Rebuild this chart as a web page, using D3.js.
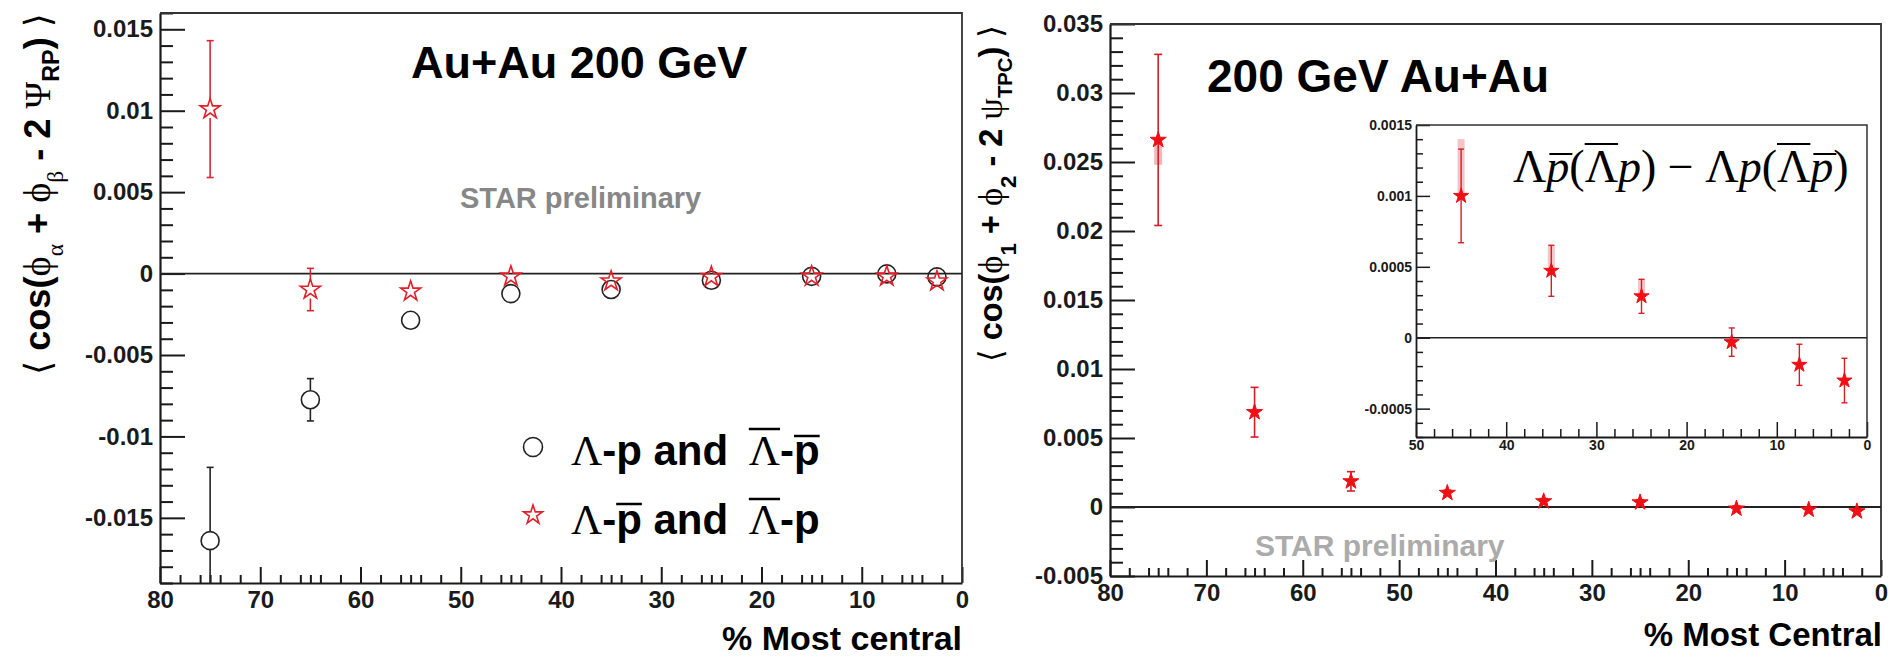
<!DOCTYPE html>
<html><head><meta charset="utf-8">
<script src="https://cdn.jsdelivr.net/npm/d3@7"></script>
<style>body{margin:0;background:#fff}svg{display:block}text{white-space:pre}</style>
</head><body>
<svg id="c" width="1890" height="660"></svg>
<script>
// ---------------- data ----------------
const centrality = [75, 65, 55, 45, 35, 25, 15, 7.5, 2.5];
// left panel: same-sign pairs (Λ-p and Λbar-pbar), open circles
const sameVals = [-0.0164, -0.00775, -0.00287, -0.00123, -0.00098, -0.00041, -0.00017, -0.00002, -0.0002];
const sameErr  = [0.0045, 0.0013, 0.0002, 0.0001, 0.0001, 0.0001, 0.0001, 0.0001, 0.0001];
// left panel: opposite-sign pairs (Λ-pbar and Λbar-p), open stars
const oppVals = [0.0101, -0.00098, -0.00109, -0.00017, -0.00047, -0.0002, -0.00017, -0.00017, -0.00047];
const oppErr  = [0.0042, 0.0013, 0.0003, 0.0002, 0.0001, 0.0001, 0.0001, 0.0001, 0.0001];
// right panel: main
const rightVals = [0.0266, 0.00687, 0.00186, 0.00102, 0.00041, 0.00033, -0.00012, -0.0002, -0.00032];
const rightErr  = [0.0062, 0.0018, 0.0007, 0.0002, 0.0002, 0.0002, 0.0002, 0.0002, 0.0002];
const rightSysLow = [0.0018, 0, 0, 0, 0, 0, 0, 0, 0];
// inset: difference
const insetCent = [45, 35, 25, 15, 7.5, 2.5];
const insetVals = [0.0010, 0.000472, 0.000292, -0.000031, -0.000191, -0.000302];
const insetErr  = [0.00033, 0.00018, 0.00012, 0.0001, 0.000145, 0.000157];
const insetSysHigh = [0.0004, 0.00018, 0.00012, 0, 0, 0];
// ticks
const xMajor = [80, 70, 60, 50, 40, 30, 20, 10, 0];
const yMajorL = [-0.015, -0.01, -0.005, 0, 0.005, 0.01, 0.015];
const yMajorR = [-0.005, 0, 0.005, 0.01, 0.015, 0.02, 0.025, 0.03, 0.035];
const xMajorI = [50, 40, 30, 20, 10, 0];
const yMajorI = [-0.0005, 0, 0.0005, 0.001, 0.0015];

// ---------------- setup ----------------
const SANS = '"Liberation Sans", Arial, Helvetica, sans-serif';
const SERIF = '"Liberation Serif", "Times New Roman", serif';
const SYM = '"DejaVu Sans", sans-serif';
const svg = d3.select('#c');
svg.append('rect').attr('width', 1890).attr('height', 660).attr('fill', '#fff');

const fmt = d => Math.abs(d) < 1e-12 ? '0' : String(+d.toFixed(5));

// one <text> made of styled tspans; overlines measured from glyph extents
function rich(parent, x, y, segs, k = 1) {
  const t = parent.append('text').attr('x', x).attr('y', y).attr('fill', '#000');
  let idx = 0, prevDy = 0;
  const overs = [];
  segs.forEach(s => {
    const dy = (s.dy || 0) * k;
    const ts = t.append('tspan').attr('font-family', s.family || SANS).attr('font-size', s.size * k)
      .attr('font-weight', s.weight || 'bold').attr('font-style', s.style || 'normal')
      .attr('dy', dy - prevDy).text(s.t);
    if (s.gap) ts.attr('dx', s.gap * k);
    prevDy = dy;
    if (s.over) overs.push({ a: idx, b: idx + s.t.length - 1, s });
    idx += s.t.length;
  });
  const node = t.node();
  overs.forEach(o => {
    const ea = node.getExtentOfChar(o.a), eb = node.getExtentOfChar(o.b);
    const sh = (o.s.overShift || 0) * k;
    parent.append('line').attr('x1', ea.x + sh).attr('x2', eb.x + eb.width + sh)
      .attr('y1', y - o.s.over * k).attr('y2', y - o.s.over * k)
      .attr('stroke', '#000').attr('stroke-width', o.s.overW || 2);
  });
  const last = node.getExtentOfChar(idx - 1);
  return last.x + last.width - x;
}
function richFit(parent, segs, target) {
  const tmp = parent.append('g');
  const w = rich(tmp, 0, 0, segs);
  tmp.remove();
  rich(parent, 0, 0, segs, target / w);
}

function axes(g, x, y, o) {
  const [xa, xb] = x.range(), [ya, yb] = y.range();
  const styleAx = sel => sel.attr('font-family', SANS).attr('font-weight', 'bold')
    .attr('font-size', o.font).attr('color', '#1a1a1a');
  g.append('g').attr('transform', `translate(0,${ya})`)
    .call(d3.axisBottom(x).tickValues(o.xMinor).tickSize(-o.xMinLen).tickFormat('').tickSizeOuter(0))
    .call(s => s.select('.domain').remove()).call(styleAx)
    .selectAll('line').attr('stroke-width', o.tw);
  const gx = g.append('g').attr('transform', `translate(0,${ya})`)
    .call(d3.axisBottom(x).tickValues(o.xMajor).tickSize(-o.xMajLen).tickPadding(o.xPad)
      .tickFormat(d3.format('d')).tickSizeOuter(0)).call(styleAx);
  gx.selectAll('line').attr('stroke-width', o.tw);
  gx.select('.domain').attr('stroke-width', o.dw);
  g.append('g').attr('transform', `translate(${xa},0)`)
    .call(d3.axisLeft(y).tickValues(o.yMinor).tickSize(-o.yMinLen).tickFormat('').tickSizeOuter(0))
    .call(s => s.select('.domain').remove()).call(styleAx)
    .selectAll('line').attr('stroke-width', o.tw);
  const gy = g.append('g').attr('transform', `translate(${xa},0)`)
    .call(d3.axisLeft(y).tickValues(o.yMajor).tickSize(-o.yMajLen).tickPadding(o.yPad)
      .tickFormat(fmt).tickSizeOuter(0)).call(styleAx);
  gy.selectAll('line').attr('stroke-width', o.tw);
  gy.select('.domain').attr('stroke-width', o.dw);
  g.append('path').attr('d', `M${xa},${yb}H${xb}V${ya}`).attr('fill', 'none')
    .attr('stroke', '#333').attr('stroke-width', o.fw);
  g.append('line').attr('x1', xa).attr('x2', xb).attr('y1', y(0)).attr('y2', y(0))
    .attr('stroke', '#222').attr('stroke-width', o.zw);
}

function clip(id, x, y) {
  const [xa, xb] = x.range(), [ya, yb] = y.range();
  svg.append('clipPath').attr('id', id).append('rect')
    .attr('x', xa).attr('y', yb).attr('width', xb - xa).attr('height', ya - yb);
}

function errBars(g, x, y, xs, vals, errs, r, cap, color, w) {
  xs.forEach((c, i) => {
    const px = x(c), py = y(vals[i]), top = y(vals[i] + errs[i]), bot = y(vals[i] - errs[i]);
    if (py - r > top) {
      g.append('line').attr('x1', px).attr('x2', px).attr('y1', top).attr('y2', py - r)
        .attr('stroke', color).attr('stroke-width', w);
      g.append('line').attr('x1', px - cap).attr('x2', px + cap).attr('y1', top).attr('y2', top)
        .attr('stroke', color).attr('stroke-width', w);
    }
    if (bot > py + r) {
      g.append('line').attr('x1', px).attr('x2', px).attr('y1', py + r).attr('y2', bot)
        .attr('stroke', color).attr('stroke-width', w);
      g.append('line').attr('x1', px - cap).attr('x2', px + cap).attr('y1', bot).attr('y2', bot)
        .attr('stroke', color).attr('stroke-width', w);
    }
  });
}
const starSize = r => r * r / 0.8908130915292852;

// ================= LEFT PANEL =================
const xL = d3.scaleLinear().domain([80, 0]).range([160, 962]);
const yL = d3.scaleLinear().domain([-0.019, 0.016]).range([583, 13]);
const xMinor = d3.range(1, 80).filter(v => v % 10 !== 0 && (v % 2 === 0 || v % 5 === 0));
const gL = svg.append('g');
axes(gL, xL, yL, {
  xMajor, xMinor, yMajor: yMajorL,
  yMinor: d3.range(-19, 17).filter(i => i % 5 !== 0).map(i => i / 1000),
  xMajLen: 16, xMinLen: 8, yMajLen: 25, yMinLen: 13, xPad: 8, yPad: 7,
  font: 24, tw: 2, dw: 2.2, fw: 1.8, zw: 1.8
});
clip('clipL', xL, yL);
const dL = gL.append('g').attr('clip-path', 'url(#clipL)');
errBars(dL, xL, yL, centrality, sameVals, sameErr, 9, 3.5, '#222', 1.6);
errBars(dL, xL, yL, centrality, oppVals, oppErr, 9, 3.5, '#d8262e', 1.6);
dL.selectAll('circle.same').data(centrality).join('circle')
  .attr('cx', d => xL(d)).attr('cy', (d, i) => yL(sameVals[i])).attr('r', 9)
  .attr('fill', 'none').attr('stroke', '#222').attr('stroke-width', 1.6);
dL.selectAll('path.opp').data(centrality).join('path')
  .attr('transform', (d, i) => `translate(${xL(d)},${yL(oppVals[i])})`)
  .attr('d', d3.symbol(d3.symbolStar, starSize(10.5)))
  .attr('fill', 'none').attr('stroke', '#e0202a').attr('stroke-width', 1.6);

gL.append('text').attr('x', 411).attr('y', 78).attr('font-family', SANS).attr('font-weight', 'bold')
  .attr('font-size', 45).text('Au+Au 200 GeV');
gL.append('text').attr('x', 460).attr('y', 208).attr('font-family', SANS).attr('font-weight', 'bold')
  .attr('font-size', 29).attr('fill', '#878787').text('STAR preliminary');
gL.append('text').attr('x', 962).attr('y', 650).attr('text-anchor', 'end').attr('font-family', SANS)
  .attr('font-weight', 'bold').attr('font-size', 34).text('% Most central');

// legend
gL.append('circle').attr('cx', 533).attr('cy', 447).attr('r', 9.5).attr('fill', 'none')
  .attr('stroke', '#222').attr('stroke-width', 1.6);
gL.append('path').attr('transform', 'translate(533,515)').attr('d', d3.symbol(d3.symbolStar, starSize(10)))
  .attr('fill', 'none').attr('stroke', '#e0202a').attr('stroke-width', 1.6);
rich(gL, 571, 465, [
  { t: 'Λ', family: SERIF, weight: 'normal', size: 43 },
  { t: '-p and ', size: 42 },
  { t: 'Λ', family: SERIF, weight: 'normal', size: 43, over: 36, gap: 9, overW: 2.5 },
  { t: '-', size: 42 },
  { t: 'p', size: 42, over: 29, overW: 2.5 }
]);
rich(gL, 571, 534, [
  { t: 'Λ', family: SERIF, weight: 'normal', size: 43 },
  { t: '-', size: 42 },
  { t: 'p', size: 42, over: 30, overW: 2.5 },
  { t: ' and ', size: 42 },
  { t: 'Λ', family: SERIF, weight: 'normal', size: 43, over: 35, gap: 9, overW: 2.5 },
  { t: '-p', size: 42 }
]);

// y label left
const ylL = svg.append('g').attr('transform', 'translate(50,375) rotate(-90)');
richFit(ylL, [
  { t: '⟨', family: SYM, weight: 'normal', size: 34 },
  { t: ' cos(', size: 34 },
  { t: 'ϕ', family: SERIF, weight: 'normal', size: 36 },
  { t: 'α', family: SERIF, weight: 'normal', size: 22, dy: 12 },
  { t: ' + ', size: 34 },
  { t: 'ϕ', family: SERIF, weight: 'normal', size: 36 },
  { t: 'β', family: SERIF, weight: 'normal', size: 22, dy: 12 },
  { t: ' - 2 ', size: 34 },
  { t: 'Ψ', family: SERIF, weight: 'normal', size: 34 },
  { t: 'RP', size: 22, dy: 8 },
  { t: ') ', size: 34 },
  { t: '⟩', family: SYM, weight: 'normal', size: 34 }
], 362);

// ================= RIGHT PANEL =================
const xR = d3.scaleLinear().domain([80, 0]).range([1110, 1881]);
const yR = d3.scaleLinear().domain([-0.005, 0.035]).range([576, 24]);
const gR = svg.append('g');
axes(gR, xR, yR, {
  xMajor, xMinor, yMajor: yMajorR,
  yMinor: d3.range(-5, 36).filter(i => i % 5 !== 0).map(i => i / 1000),
  xMajLen: 16, xMinLen: 8, yMajLen: 25, yMinLen: 13, xPad: 8, yPad: 7,
  font: 24, tw: 2, dw: 2.2, fw: 1.8, zw: 1.8
});
clip('clipR', xR, yR);
const dR = gR.append('g').attr('clip-path', 'url(#clipR)');
dR.selectAll('rect.sys').data(centrality.filter((d, i) => rightSysLow[i] > 0)).join('rect')
  .attr('x', d => xR(d) - 4).attr('width', 8)
  .attr('y', d => yR(rightVals[centrality.indexOf(d)]))
  .attr('height', d => { const i = centrality.indexOf(d); return yR(rightVals[i] - rightSysLow[i]) - yR(rightVals[i]); })
  .attr('fill', '#f6b8bc');
errBars(dR, xR, yR, centrality, rightVals, rightErr, 0, 4, '#d41f26', 1.6);
dR.selectAll('path.st').data(centrality).join('path')
  .attr('transform', (d, i) => `translate(${xR(d)},${yR(rightVals[i])})`)
  .attr('d', d3.symbol(d3.symbolStar, starSize(8.5))).attr('fill', '#f00f14')
  .attr('stroke', '#f00f14').attr('stroke-width', 1);

gR.append('text').attr('x', 1207).attr('y', 92).attr('font-family', SANS).attr('font-weight', 'bold')
  .attr('font-size', 46).text('200 GeV Au+Au');
gR.append('text').attr('x', 1255).attr('y', 556).attr('font-family', SANS).attr('font-weight', 'bold')
  .attr('font-size', 30).attr('fill', '#ababab').text('STAR preliminary');
gR.append('text').attr('x', 1882).attr('y', 646).attr('text-anchor', 'end').attr('font-family', SANS)
  .attr('font-weight', 'bold').attr('font-size', 33).text('% Most Central');

const ylR = svg.append('g').attr('transform', 'translate(1002,362) rotate(-90)');
richFit(ylR, [
  { t: '⟨', family: SYM, weight: 'normal', size: 32 },
  { t: ' cos(', size: 32 },
  { t: 'ϕ', family: SERIF, weight: 'normal', size: 34 },
  { t: '1', size: 22, dy: 14 },
  { t: ' + ', size: 32 },
  { t: 'ϕ', family: SERIF, weight: 'normal', size: 34 },
  { t: '2', size: 22, dy: 14 },
  { t: ' - 2 ', size: 32 },
  { t: 'ψ', family: SERIF, weight: 'normal', size: 34 },
  { t: 'TPC', size: 20, dy: 10 },
  { t: ') ', size: 32 },
  { t: '⟩', family: SYM, weight: 'normal', size: 32 }
], 337);

// ================= INSET =================
const xI = d3.scaleLinear().domain([50, 0]).range([1416, 1867]);
const yI = d3.scaleLinear().domain([-0.0007, 0.0015]).range([437, 125]);
const gI = svg.append('g');
gI.append('rect').attr('x', 1416).attr('y', 125).attr('width', 451).attr('height', 312).attr('fill', '#fff');
axes(gI, xI, yI, {
  xMajor: xMajorI, xMinor: d3.range(2, 50, 2).filter(v => v % 10 !== 0), yMajor: yMajorI,
  yMinor: d3.range(-7, 16).filter(i => i % 5 !== 0).map(i => i / 10000),
  xMajLen: 15, xMinLen: 8, yMajLen: 14, yMinLen: 7, xPad: 3, yPad: 4,
  font: 14, tw: 1.5, dw: 1.8, fw: 1.5, zw: 1.3
});
clip('clipI', xI, yI);
const dI = gI.append('g').attr('clip-path', 'url(#clipI)');
dI.selectAll('rect.sys').data(insetCent.filter((d, i) => insetSysHigh[i] > 0)).join('rect')
  .attr('x', d => xI(d) - 3.5).attr('width', 7)
  .attr('y', d => { const i = insetCent.indexOf(d); return yI(insetVals[i] + insetSysHigh[i]); })
  .attr('height', d => { const i = insetCent.indexOf(d); return yI(insetVals[i]) - yI(insetVals[i] + insetSysHigh[i]); })
  .attr('fill', '#f6c4c6');
errBars(dI, xI, yI, insetCent, insetVals, insetErr, 0, 3, '#d41f26', 1.4);
dI.selectAll('path.st').data(insetCent).join('path')
  .attr('transform', (d, i) => `translate(${xI(d)},${yI(insetVals[i])})`)
  .attr('d', d3.symbol(d3.symbolStar, starSize(8))).attr('fill', '#f00f14')
  .attr('stroke', '#f00f14').attr('stroke-width', 1);

rich(gI, 1513, 182, [
  { t: 'Λ', family: SERIF, weight: 'normal', size: 46 },
  { t: 'p', family: SERIF, weight: 'normal', style: 'italic', size: 46, over: 28, overShift: 3, overW: 2 },
  { t: '(', family: SERIF, weight: 'normal', size: 46 },
  { t: 'Λ', family: SERIF, weight: 'normal', size: 46, over: 38, overW: 2 },
  { t: 'p', family: SERIF, weight: 'normal', style: 'italic', size: 46 },
  { t: ') − ', family: SERIF, weight: 'normal', size: 46 },
  { t: 'Λ', family: SERIF, weight: 'normal', size: 46 },
  { t: 'p', family: SERIF, weight: 'normal', style: 'italic', size: 46 },
  { t: '(', family: SERIF, weight: 'normal', size: 46 },
  { t: 'Λ', family: SERIF, weight: 'normal', size: 46, over: 38, overW: 2 },
  { t: 'p', family: SERIF, weight: 'normal', style: 'italic', size: 46, over: 28, overShift: 3, overW: 2 },
  { t: ')', family: SERIF, weight: 'normal', size: 46 }
]);
</script>
</body></html>
